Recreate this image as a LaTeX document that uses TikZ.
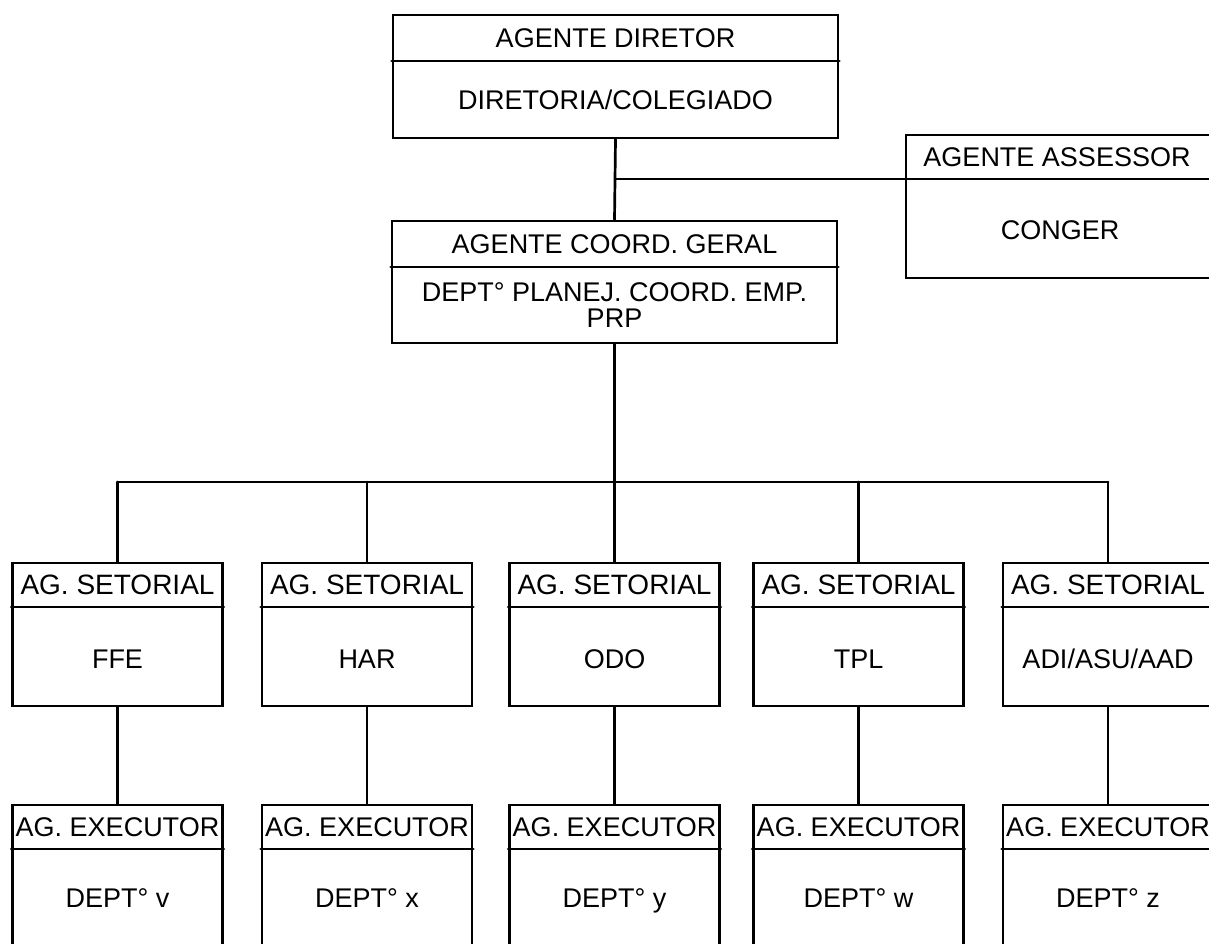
\documentclass[tikz,border=0pt]{standalone}
\usepackage{fontspec}
\setmainfont{Liberation Sans}
\begin{document}
\begin{tikzpicture}[x=1pt,y=-1pt,
  ln/.style={line width=2.7pt, line cap=round},
  box/.style={draw, line width=2.7pt, inner sep=0pt, minimum width=#1},
  lbl/.style={inner sep=0pt, font=\fontsize{27}{26}\selectfont, align=center},
  lblb/.style={lbl, font=\fontsize{28}{26}\selectfont},
]
\useasboundingbox (0,0) rectangle (1209,944);
\clip (0,0) rectangle (1209,944);

% top
\node[box=445pt, minimum height=123pt] (top) at (615.5,76.5) {};
\draw[ln] (top.west |- 0,61) -- (top.east |- 0,61);
\node[lbl] (toph) at (615.5,38) {AGENTE DIRETOR};
\node[lbl] (topb) at (615.5,100) {DIRETORIA/COLEGIADO};

% coord
\node[box=445pt, minimum height=122pt] (coord) at (614.5,282) {};
\draw[ln] (coord.west |- 0,267) -- (coord.east |- 0,267);
\node[lbl] (coordh) at (614.5,244) {AGENTE COORD. GERAL};
\node[lbl] (coordb) at (614.5,305) {DEPT° PLANEJ. COORD. EMP.\\PRP};

% assessor
\node[box=308pt, minimum height=143pt] (ass) at (1060,206.5) {};
\draw[ln] (ass.west |- 0,179) -- (ass.east |- 0,179);
\node[lbl] (assh) at (1057,157) {AGENTE ASSESSOR};
\node[lbl] (assb) at (1060,230) {CONGER};

% connectors top
\draw[ln] (top.south) -- (coord.north);
\coordinate (aj) at (615.5,179);
\draw[ln] (aj) -- (aj -| ass.west);

% setorial / executor
\foreach \i/\cx/\sb/\eb in {1/117.5/FFE/v, 2/367/HAR/x, 3/614.5/ODO/y, 4/858.5/TPL/w, 5/1108/ADI\slash ASU\slash AAD/z}{
  \node[box=210pt, minimum height=143pt] (s\i) at (\cx,634.5) {};
  \draw[ln] (s\i.west |- 0,607) -- (s\i.east |- 0,607);
  \node[lblb] (s\i h) at (\cx,585) {AG. SETORIAL};
  \node[lbl] (s\i b) at (\cx,659) {\sb};
  \node[box=210pt, minimum height=160pt] (e\i) at (\cx,885) {};
  \draw[ln] (e\i.west |- 0,849) -- (e\i.east |- 0,849);
  \node[lbl] (e\i h) at (\cx,827) {AG. EXECUTOR};
  \node[lbl, anchor=base] (e\i b) at (\cx,907) {DEPT° \eb};
  \draw[ln] (s\i.south) -- (e\i.north);
}

% bus
\coordinate (bus) at (614.5,482);
\draw[ln] (coord.south) -- (bus);
\draw[ln] (bus -| s1.north) -- (bus -| s5.north);
\foreach \i in {1,...,5}{
  \draw[ln] (bus -| s\i.north) -- (s\i.north);
}
\end{tikzpicture}
\end{document}
